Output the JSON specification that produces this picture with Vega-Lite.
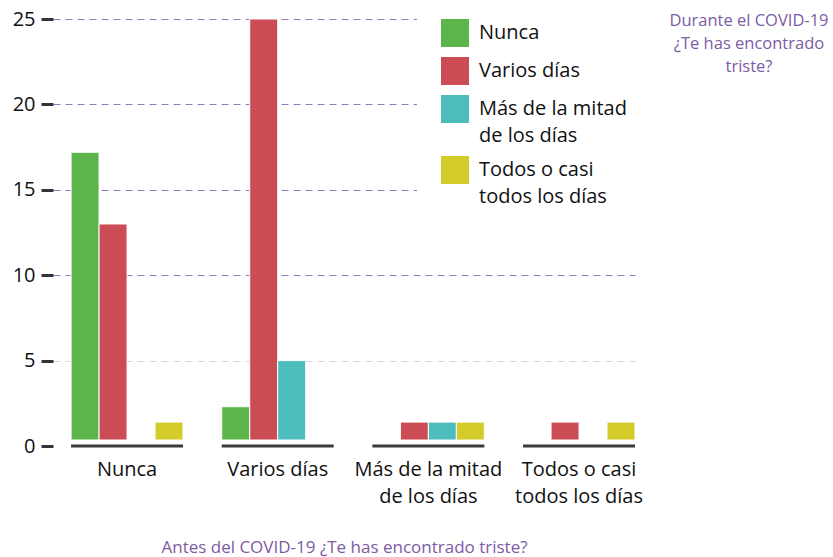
{
  "$schema": "https://vega.github.io/schema/vega-lite/v6.json",
  "width": 582,
  "height": 427,
  "autosize": "none",
  "padding": {"left": 53, "top": 19, "right": 198, "bottom": 111},
  "background": "white",
  "config": {
    "font": "Open Sans",
    "view": {"stroke": null},
    "style": {"guide-label": {"lineHeight": 27}}
  },
  "title": {
    "text": ["Durante el COVID-19", "¿Te has encontrado", "triste?"],
    "anchor": "end",
    "align": "center",
    "dx": 98,
    "dy": 80,
    "offset": 0,
    "baseline": "top",
    "fontSize": 16.5,
    "fontWeight": "normal",
    "color": "#7d5ba6",
    "lineHeight": 23
  },
  "datasets": {
    "bars": [
      {"antes": "Nunca", "durante": "Nunca", "valor": 17.2},
      {"antes": "Nunca", "durante": "Varios días", "valor": 13},
      {"antes": "Nunca", "durante": "Todos o casi todos los días", "valor": 1.4},
      {"antes": "Varios días", "durante": "Nunca", "valor": 2.3},
      {"antes": "Varios días", "durante": "Varios días", "valor": 25},
      {"antes": "Varios días", "durante": "Más de la mitad de los días", "valor": 5},
      {"antes": "Más de la mitad de los días", "durante": "Varios días", "valor": 1.4},
      {"antes": "Más de la mitad de los días", "durante": "Más de la mitad de los días", "valor": 1.4},
      {"antes": "Más de la mitad de los días", "durante": "Todos o casi todos los días", "valor": 1.4},
      {"antes": "Todos o casi todos los días", "durante": "Varios días", "valor": 1.4},
      {"antes": "Todos o casi todos los días", "durante": "Todos o casi todos los días", "valor": 1.4}
    ],
    "groups": [
      {"antes": "Nunca"},
      {"antes": "Varios días"},
      {"antes": "Más de la mitad de los días"},
      {"antes": "Todos o casi todos los días"}
    ]
  },
  "layer": [
    {
      "data": {"name": "groups"},
      "mark": {"type": "bar", "color": "#3a3a3a"},
      "encoding": {
        "x": {
          "field": "antes",
          "type": "nominal",
          "sort": ["Nunca", "Varios días", "Más de la mitad de los días", "Todos o casi todos los días"],
          "scale": {"paddingInner": 0.257, "paddingOuter": 0.06, "align": 1},
          "axis": {
            "title": "Antes del COVID-19 ¿Te has encontrado triste?",
            "titleFontSize": 17,
            "titleFontWeight": "normal",
            "titleColor": "#7d5ba6",
            "titlePadding": 33,
            "domain": false,
            "ticks": false,
            "labelAngle": 0,
            "labelFontSize": 20,
            "labelColor": "#111111",
            "labelPadding": 13,
            "labelBaseline": "top",
            "labelLineHeight": 27,
            "labelLimit": 300,
            "labelExpr": "datum.label == 'Más de la mitad de los días' ? ['Más de la mitad', 'de los días'] : datum.label == 'Todos o casi todos los días' ? ['Todos o casi', 'todos los días'] : datum.label"
          }
        },
        "y": {"datum": 0.09},
        "y2": {"datum": -0.09}
      }
    },
    {
      "data": {"name": "bars"},
      "mark": {"type": "bar", "stroke": "white", "strokeWidth": 1},
      "encoding": {
        "x": {
          "field": "antes",
          "type": "nominal",
          "sort": ["Nunca", "Varios días", "Más de la mitad de los días", "Todos o casi todos los días"]
        },
        "xOffset": {
          "field": "durante",
          "type": "nominal",
          "scale": {"domain": ["Nunca", "Varios días", "Más de la mitad de los días", "Todos o casi todos los días"], "paddingInner": 0, "paddingOuter": 0}
        },
        "y": {
          "field": "valor",
          "type": "quantitative",
          "scale": {"domain": [0, 25], "nice": false},
          "axis": {
            "title": null,
            "values": [0, 5, 10, 15, 20, 25],
            "domain": false,
            "tickSize": 12,
            "tickWidth": 3,
            "tickColor": "#333333",
            "labelFontSize": 20,
            "labelColor": "#111111",
            "labelPadding": 6,
            "grid": true,
            "gridDash": [7, 5],
            "gridWidth": 1,
            "gridColor": {"condition": {"test": "datum.value === 0", "value": "transparent"}, "value": "#9578bd"},
            "gridOpacity": {"condition": {"test": "datum.value === 5", "value": 0.35}, "value": 1}
          }
        },
        "y2": {"datum": 0.35},
        "color": {
          "field": "durante",
          "type": "nominal",
          "scale": {
            "domain": ["Nunca", "Varios días", "Más de la mitad de los días", "Todos o casi todos los días"],
            "range": ["#5cb54a", "#cb4c55", "#4dbcbc", "#d3cc2a"]
          },
          "legend": {
            "orient": "none",
            "legendX": 364,
            "legendY": -24,
            "title": null,
            "fillColor": "white",
            "padding": 24,
            "symbolType": "square",
            "symbolSize": 784,
            "symbolStrokeWidth": 0,
            "symbolOpacity": 1,
            "labelFontSize": 20,
            "labelColor": "#111111",
            "labelOffset": 10,
            "rowPadding": 10,
            "labelLimit": 300,
            "labelExpr": "datum.label == 'Más de la mitad de los días' ? ['Más de la mitad', 'de los días'] : datum.label == 'Todos o casi todos los días' ? ['Todos o casi', 'todos los días'] : datum.label"
          }
        }
      }
    }
  ]
}
